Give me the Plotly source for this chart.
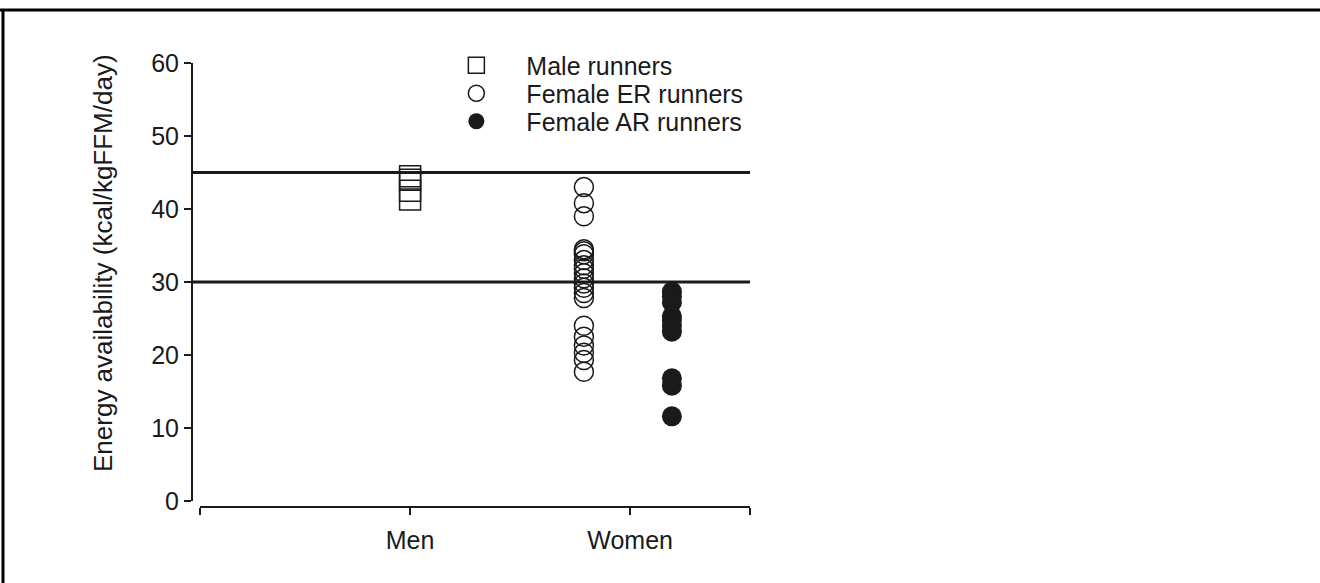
import plotly.graph_objects as go

# Energy availability (kcal/kgFFM/day) per runner
male_runners = [44.5, 44.0, 42.5, 41.3]
female_er_runners = [43.0, 40.8, 39.0, 34.5, 34.2, 33.8, 33.0, 32.3, 31.8, 31.2,
                     30.5, 29.8, 29.2, 28.5, 27.8, 24.0, 22.5, 21.3, 20.3, 19.3, 17.7]
female_ar_runners = [28.7, 28.0, 27.2, 25.3, 24.8, 24.0, 23.2, 16.8, 15.8, 11.6]

# Reference thresholds drawn as horizontal lines
thresholds = [45, 30]

group_labels = ["Men", "Women"]
y_ticks = [0, 10, 20, 30, 40, 50, 60]
y_title = "Energy availability (kcal/kgFFM/day)"

FONT = "Liberation Sans, Arial, sans-serif"
INK = "#1a1a1a"

# x positions of each group on the categorical axis
X_MEN, X_WOMEN = 1.0, 2.0
X_ER, X_AR = 1.79, 2.19
X_MIN, X_MAX = 0.045, 2.545

# plot area in pixels: left 192, top 63, width 558, height 444
LEFT, PW, PH, TOP, BOTTOM = 192, 558, 444, 63, 507


def px(pixel_x):
    return (pixel_x - LEFT) / PW


def py(pixel_y):
    return (BOTTOM - pixel_y) / PH


fig = go.Figure()

fig.add_trace(go.Scatter(
    x=[X_MEN] * len(male_runners), y=male_runners, mode="markers",
    name="Male runners", legend="legend",
    marker=dict(symbol="square-open", size=21, color=INK, line=dict(width=1.5, color=INK)),
))
fig.add_trace(go.Scatter(
    x=[X_ER] * len(female_er_runners), y=female_er_runners, mode="markers",
    name="Female ER runners", legend="legend2",
    marker=dict(symbol="circle-open", size=19, color=INK, line=dict(width=1.5, color=INK)),
))
fig.add_trace(go.Scatter(
    x=[X_AR] * len(female_ar_runners), y=female_ar_runners, mode="markers",
    name="Female AR runners", legend="legend3",
    marker=dict(symbol="circle", size=20, color=INK, line=dict(width=0)),
))

for t in thresholds:
    fig.add_shape(type="line", xref="paper", x0=0, x1=1, yref="y", y0=t, y1=t,
                  line=dict(color=INK, width=3), layer="below")

# Frame around the figure: top and left edges
fig.add_shape(type="line", xref="paper", yref="paper",
              x0=px(0), x1=px(1320), y0=py(10), y1=py(10),
              line=dict(color="black", width=3))
fig.add_shape(type="line", xref="paper", yref="paper",
              x0=px(3), x1=px(3), y0=py(10), y1=py(600),
              line=dict(color="black", width=3))

# Vertical axis title
fig.add_annotation(
    text=y_title, textangle=-90, showarrow=False,
    xref="paper", yref="paper", x=px(103), y=py(263),
    xanchor="center", yanchor="middle",
    font=dict(family=FONT, size=26, color=INK),
)

legend_style = dict(
    x=0.42, xanchor="left", yanchor="middle",
    bgcolor="rgba(0,0,0,0)", borderwidth=0,
    font=dict(family=FONT, size=25, color=INK),
    itemwidth=90,
)

fig.update_layout(
    width=1320, height=583,
    margin=dict(l=LEFT, r=1320 - LEFT - PW, t=TOP, b=583 - BOTTOM),
    paper_bgcolor="white", plot_bgcolor="white",
    font=dict(family=FONT, size=24, color=INK),
    showlegend=True,
    legend=dict(y=py(65.5), **legend_style),
    legend2=dict(y=py(93.5), **legend_style),
    legend3=dict(y=py(121.5), **legend_style),
    xaxis=dict(
        domain=[8 / PW, 1], range=[X_MIN, X_MAX],
        anchor="free", position=0,
        showline=True, linecolor=INK, linewidth=2,
        showgrid=False, zeroline=False,
        tickmode="array", tickvals=[X_MIN, X_MEN, X_WOMEN, X_MAX],
        ticktext=["", group_labels[0], group_labels[1], ""],
        ticks="outside", ticklen=7, tickwidth=2, tickcolor=INK,
        ticklabelstandoff=4,
        tickfont=dict(family=FONT, size=25, color=INK),
    ),
    yaxis=dict(
        domain=[6 / PH, 1], range=[0, 60],
        anchor="free", position=0,
        showline=True, linecolor=INK, linewidth=2,
        showgrid=False, zeroline=False,
        tickmode="array", tickvals=y_ticks,
        ticks="outside", ticklen=7, tickwidth=2, tickcolor=INK,
        tickfont=dict(family=FONT, size=25, color=INK),
    ),
)

fig.write_html("out.html")
